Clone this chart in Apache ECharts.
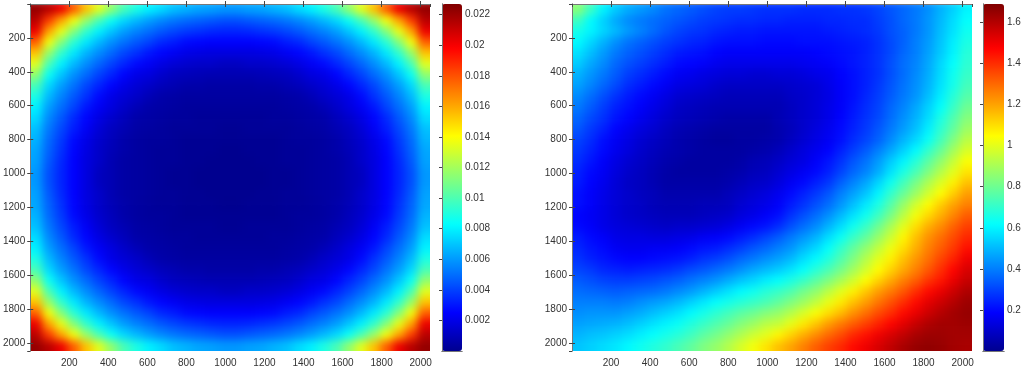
<!DOCTYPE html>
<html><head><meta charset="utf-8">
<style>
html,body{margin:0;padding:0;background:#fff;overflow:hidden}
#wrap{position:relative;width:1024px;height:371px}
#clip{position:absolute;left:0;top:0;width:1024px;height:371px;clip-path:path('M30 4H430V351H30Z M572 4H972V351H572Z')}
#field{position:absolute;left:0;top:0;width:1024px;height:371px;filter:blur(4px)}
#c{position:absolute;left:0;top:0;width:1024px;height:371px}
</style>
<script src="https://cdn.jsdelivr.net/npm/echarts@6/dist/echarts.min.js"></script>
</head><body><div id="wrap"><div id="clip"><div id="field"></div></div><div id="c"></div></div>
<script>
const xTicksMax = 2048;
const cellSize = 64;
// Left panel, in units of 0.0001; rows top to bottom, columns left to right
const leftValues = [
[222,214,202,177,154,134,116,99,89,80,75,69,66,63,62,60,60,62,63,66,69,75,80,89,99,116,134,154,177,202,214,222],
[214,185,161,138,117,99,85,74,67,61,56,52,49,47,45,43,43,45,47,49,52,56,61,67,74,85,99,117,138,161,185,214],
[202,161,136,113,94,80,70,61,55,50,45,41,38,36,34,33,33,34,36,38,41,45,50,55,61,70,80,94,113,136,161,202],
[177,138,113,92,78,67,58,51,45,40,34,31,27,26,25,25,25,25,26,27,31,34,40,45,51,58,67,78,92,113,138,177],
[154,117,94,78,66,57,49,41,36,30,26,23,20,19,18,18,18,18,19,20,23,26,30,36,41,49,57,66,78,94,117,154],
[134,99,80,67,57,48,40,33,27,23,19,16,14,13,13,11,11,13,13,14,16,19,23,27,33,40,48,57,67,80,99,134],
[116,85,70,58,49,40,33,26,20,18,14,11,10,9,8,8,8,8,9,10,11,14,18,20,26,33,40,49,58,70,85,116],
[99,74,61,51,41,33,26,20,16,13,10,8,6,6,5,5,5,5,6,6,8,10,13,16,20,26,33,41,51,61,74,99],
[89,67,55,45,36,27,20,16,13,9,6,5,4,4,4,4,4,4,4,4,5,6,9,13,16,20,27,36,45,55,67,89],
[80,61,50,40,30,23,18,13,9,6,5,4,3,3,3,3,3,3,3,3,4,5,6,9,13,18,23,30,40,50,61,80],
[75,56,45,34,26,19,14,10,6,5,4,3,3,2,2,2,2,2,2,3,3,4,5,6,10,14,19,26,34,45,56,75],
[69,52,41,31,23,16,11,8,5,4,3,2,2,2,2,1,1,2,2,2,2,3,4,5,8,11,16,23,31,41,52,69],
[66,49,38,27,20,14,10,6,4,3,3,2,1,1,1,1,1,1,1,1,2,3,3,4,6,10,14,20,27,38,49,66],
[63,47,36,26,19,13,9,6,4,3,2,2,1,1,1,0,0,1,1,1,2,2,3,4,6,9,13,19,26,36,47,63],
[62,45,34,25,18,13,8,5,4,3,2,2,1,1,0,0,0,0,1,1,2,2,3,4,5,8,13,18,25,34,45,62],
[60,43,33,25,18,11,8,5,4,3,2,1,1,0,0,0,0,0,0,1,1,2,3,4,5,8,11,18,25,33,43,60],
[60,43,33,25,18,11,8,5,4,3,2,1,1,0,0,0,0,0,0,1,1,2,3,4,5,8,11,18,25,33,43,60],
[62,45,34,25,18,13,8,5,4,3,2,2,1,1,0,0,0,0,1,1,2,2,3,4,5,8,13,18,25,34,45,62],
[63,47,36,26,19,13,9,6,4,3,2,2,1,1,1,0,0,1,1,1,2,2,3,4,6,9,13,19,26,36,47,63],
[66,49,38,27,20,14,10,6,4,3,3,2,1,1,1,1,1,1,1,1,2,3,3,4,6,10,14,20,27,38,49,66],
[69,52,41,31,23,16,11,8,5,4,3,2,2,2,2,1,1,2,2,2,2,3,4,5,8,11,16,23,31,41,52,69],
[75,56,45,34,26,19,14,10,6,5,4,3,3,2,2,2,2,2,2,3,3,4,5,6,10,14,19,26,34,45,56,75],
[80,61,50,40,30,23,18,13,9,6,5,4,3,3,3,3,3,3,3,3,4,5,6,9,13,18,23,30,40,50,61,80],
[89,67,55,45,36,27,20,16,13,9,6,5,4,4,4,4,4,4,4,4,5,6,9,13,16,20,27,36,45,55,67,89],
[99,74,61,51,41,33,26,20,16,13,10,8,6,6,5,5,5,5,6,6,8,10,13,16,20,26,33,41,51,61,74,99],
[116,85,70,58,49,40,33,26,20,18,14,11,10,9,8,8,8,8,9,10,11,14,18,20,26,33,40,49,58,70,85,116],
[134,99,80,67,57,48,40,33,27,23,19,16,14,13,13,11,11,13,13,14,16,19,23,27,33,40,48,57,67,80,99,134],
[154,117,94,78,66,57,49,41,36,30,26,23,20,19,18,18,18,18,19,20,23,26,30,36,41,49,57,66,78,94,117,154],
[177,138,113,92,78,67,58,51,45,40,34,31,27,26,25,25,25,25,26,27,31,34,40,45,51,58,67,78,92,113,138,177],
[202,161,136,113,94,80,70,61,55,50,45,41,38,36,34,33,33,34,36,38,41,45,50,55,61,70,80,94,113,136,161,202],
[214,185,161,138,117,99,85,74,67,61,56,52,49,47,45,43,43,45,47,49,52,56,61,67,74,85,99,117,138,161,185,214],
[222,214,202,177,154,134,116,99,89,80,75,69,66,63,62,60,60,62,63,66,69,75,80,89,99,116,134,154,177,202,214,222]
];
// Right panel, in units of 0.01
const rightValues = [
[85,72,60,53,48,45,42,38,36,34,32,30,29,29,28,27,27,27,26,26,26,27,27,28,30,33,36,39,43,49,54,60],
[72,61,54,47,42,39,37,35,33,31,29,28,27,26,26,25,25,24,24,24,25,25,26,26,29,32,36,39,44,50,56,62],
[65,60,55,50,45,41,37,33,30,28,27,25,24,23,23,22,22,22,22,22,23,24,25,26,28,32,35,39,44,51,57,64],
[61,55,49,43,38,35,32,29,27,25,24,22,21,21,21,20,20,20,21,21,21,22,23,24,27,31,35,40,45,52,59,66],
[57,51,45,39,35,32,29,26,23,22,21,19,18,18,18,18,18,18,18,19,20,21,22,24,27,31,36,40,46,53,60,68],
[53,47,42,36,32,29,26,23,20,19,18,16,15,15,15,15,15,15,16,17,18,20,22,24,27,32,37,41,47,55,62,69],
[49,44,39,34,29,26,23,20,17,16,14,13,12,12,11,11,12,12,13,15,16,19,21,24,27,32,37,42,48,56,64,71],
[46,41,36,31,26,23,20,17,14,13,12,10,9,9,9,9,9,10,11,12,15,18,21,24,28,33,38,43,49,57,65,73],
[42,37,32,27,23,20,17,14,11,10,9,8,7,7,7,7,7,9,10,12,14,18,21,25,29,34,39,44,51,59,68,76],
[39,34,29,24,21,18,15,12,9,8,7,6,6,6,6,6,6,8,10,12,15,18,22,26,30,36,41,47,54,62,71,80],
[36,31,27,22,19,16,13,10,8,7,6,5,4,4,4,4,6,8,10,12,15,19,23,27,31,37,43,49,56,66,75,84],
[33,28,24,19,16,13,11,8,6,5,4,3,3,3,3,3,5,7,10,13,16,20,24,28,33,39,45,51,59,69,78,88],
[30,26,21,17,14,11,9,7,5,4,3,2,2,3,3,4,5,8,11,14,17,21,26,30,35,42,49,55,63,73,83,93],
[28,24,20,16,13,10,8,6,5,4,3,3,3,3,4,5,7,10,13,16,19,24,29,34,40,47,54,61,70,79,89,98],
[26,22,18,14,11,9,7,5,4,3,3,3,3,4,6,7,9,12,14,18,22,27,33,38,45,53,60,68,77,86,95,104],
[24,20,17,13,10,8,6,4,3,3,3,3,4,5,7,8,11,14,17,20,24,30,36,41,48,57,66,74,83,92,100,109],
[23,19,16,12,9,8,6,4,4,4,4,4,5,7,9,10,13,17,20,24,28,35,41,47,55,64,73,82,91,99,107,115],
[21,18,15,12,10,8,7,5,5,5,5,5,7,9,11,13,16,20,24,28,33,40,46,52,60,70,79,88,97,105,113,121],
[21,18,15,12,10,9,7,6,6,6,7,7,8,11,13,15,18,23,27,32,37,44,51,58,66,76,87,97,105,113,120,126],
[19,17,15,12,10,9,8,7,7,7,8,9,10,13,15,18,21,27,32,37,43,50,57,64,72,82,93,103,111,118,125,132],
[20,18,15,13,12,11,10,9,10,10,11,12,14,17,20,22,26,32,37,42,49,56,64,71,80,90,100,110,118,124,131,137],
[23,20,18,15,14,14,13,13,14,15,17,18,20,23,26,30,34,39,44,49,56,63,71,78,87,96,106,115,123,129,135,141],
[25,22,20,17,16,16,17,17,18,20,22,23,26,29,33,36,40,44,50,55,62,70,78,86,94,102,110,118,126,132,138,145],
[27,24,22,20,19,19,20,21,22,24,27,29,32,36,39,43,46,50,56,61,67,75,83,92,100,107,115,122,129,136,142,150],
[30,28,25,24,23,24,25,26,28,31,33,36,39,43,47,50,53,57,62,68,74,81,89,97,105,112,119,126,133,140,147,154],
[34,32,30,29,29,30,31,33,35,38,41,44,48,52,55,59,62,66,71,77,83,90,97,105,112,119,126,132,139,144,151,157],
[37,36,35,34,35,36,37,39,42,45,49,53,57,61,64,68,71,75,81,86,93,100,107,114,121,127,133,140,146,151,156,161],
[40,40,40,39,40,43,45,47,50,54,58,62,65,68,71,74,78,83,88,94,101,108,115,121,128,134,140,146,152,156,160,164],
[43,44,44,44,46,48,51,54,57,61,65,69,73,77,80,84,87,92,98,104,110,116,123,129,135,140,146,151,156,160,163,165],
[46,47,48,49,51,54,57,60,63,67,71,75,79,84,88,93,95,101,108,114,121,127,132,137,142,147,152,157,161,163,163,164],
[49,51,52,54,56,59,62,65,68,72,77,81,86,91,96,100,106,112,118,124,130,135,141,145,150,154,158,162,164,164,163,163],
[52,54,56,58,61,64,67,70,74,78,83,87,92,98,103,109,115,120,126,132,137,141,146,150,154,158,162,165,166,165,163,162]
];
// The 64 steps of the jet colour map
const jetColors = [];
for (let k=1;k<=64;k++){
  const ramp=c=>Math.round(255*Math.max(0,Math.min(1,Math.min(c+1.5,1.5-c)))) ;
  const p=k/16; // 0..4
  jetColors.push('rgb('+ramp(p-3)+','+ramp(p-2)+','+ramp(p-1)+')');
}
const leftBarMax = 0.0227, rightBarMax = 1.69;

function cells(m, unit){
  const out=[];
  m.forEach((row,j)=>row.forEach((v,i)=>out.push([cellSize*i+cellSize/2, cellSize*j+cellSize/2, v*unit])));
  return out;
}
// Cells on the outer rows and columns run on past the frame so the soft edge falls outside the clip.
function renderCell(params, api){
  const x=api.value(0), y=api.value(1), h=cellSize/2, bleed=16;
  const a=api.coord([x-h,y-h]), b=api.coord([x+h,y+h]);
  const x0=x-h<=0?a[0]-bleed:a[0], y0=y-h<=0?a[1]-bleed:a[1];
  const x1=x+h>=xTicksMax?b[0]+bleed:b[0]+0.6, y1=y+h>=xTicksMax?b[1]+bleed:b[1]+0.6;
  return {type:'rect', shape:{x:x0,y:y0,width:x1-x0,height:y1-y0}, style:{fill:api.visual('color')}};
}
const font={fontFamily:'Liberation Sans, Arial, sans-serif',fontSize:10,color:'#333'};
const line={show:true,lineStyle:{color:'#777',width:1}};
const tick={show:true,inside:true,length:3,lineStyle:{color:'#444',width:1}};
const hideEnds=v=>(v===0||v===xTicksMax)?'':String(v);
const gridPlotL={left:30,top:4,width:400,height:347}, gridPlotR={left:572,top:4,width:400,height:347};
function plotAxes(g){
  return {
   x:[{type:'value',gridIndex:g,min:0,max:xTicksMax,interval:200,position:'bottom',axisLine:line,axisTick:tick,splitLine:{show:false},
       axisLabel:Object.assign({},font,{margin:7,formatter:hideEnds,showMinLabel:false,showMaxLabel:false}),z:5},
      {type:'value',gridIndex:g,min:0,max:xTicksMax,interval:200,position:'top',axisLine:line,axisTick:tick,splitLine:{show:false},axisLabel:{show:false},z:5}],
   y:[{type:'value',gridIndex:g,min:0,max:xTicksMax,interval:200,inverse:true,position:'left',axisLine:line,axisTick:tick,splitLine:{show:false},
       axisLabel:Object.assign({},font,{margin:5,formatter:hideEnds,showMinLabel:false,showMaxLabel:false}),z:5},
      {type:'value',gridIndex:g,min:0,max:xTicksMax,interval:200,inverse:true,position:'right',axisLine:line,axisTick:tick,splitLine:{show:false},axisLabel:{show:false},z:5}]
  };
}
function barAxes(g,max,interval){
  return {
   x:[{type:'value',gridIndex:g,min:0,max:1,position:'bottom',axisLine:line,axisTick:{show:false},axisLabel:{show:false},splitLine:{show:false},z:5},
      {type:'value',gridIndex:g,min:0,max:1,position:'top',axisLine:line,axisTick:{show:false},axisLabel:{show:false},splitLine:{show:false},z:5}],
   y:[{type:'value',gridIndex:g,min:0,max:max,interval:interval,position:'right',axisLine:line,axisTick:tick,splitLine:{show:false},
       axisLabel:Object.assign({},font,{margin:3,showMinLabel:false,showMaxLabel:false}),z:5},
      {type:'value',gridIndex:g,min:0,max:max,position:'left',axisLine:line,axisTick:{show:false},axisLabel:{show:false},splitLine:{show:false},z:5}]
  };
}
// Colour field: the two panels' cells, softened and clipped by the page's CSS.
const fieldAxis=g=>({type:'value',gridIndex:g,min:0,max:xTicksMax,show:false});
const fieldAxisY=g=>({type:'value',gridIndex:g,min:0,max:xTicksMax,inverse:true,show:false});
const field=echarts.init(document.getElementById('field'),null,{renderer:'canvas'});
field.setOption({
  animation:false,
  grid:[gridPlotL,gridPlotR],
  xAxis:[fieldAxis(0),fieldAxis(1)],
  yAxis:[fieldAxisY(0),fieldAxisY(1)],
  visualMap:[
    {type:'continuous',show:false,seriesIndex:0,dimension:2,min:0,max:leftBarMax,inRange:{color:jetColors}},
    {type:'continuous',show:false,seriesIndex:1,dimension:2,min:0,max:rightBarMax,inRange:{color:jetColors}}
  ],
  series:[
    {type:'custom',xAxisIndex:0,yAxisIndex:0,data:cells(leftValues,0.0001),renderItem:renderCell,clip:false,encode:{x:0,y:1},silent:true,progressive:0},
    {type:'custom',xAxisIndex:1,yAxisIndex:1,data:cells(rightValues,0.01),renderItem:renderCell,clip:false,encode:{x:0,y:1},silent:true,progressive:0}
  ]
});
// Frames, ticks, tick labels and colour bars.
const a0=plotAxes(0),b1=barAxes(1,leftBarMax,0.002),a2=plotAxes(2),b3=barAxes(3,rightBarMax,0.2);
const chart=echarts.init(document.getElementById('c'),null,{renderer:'canvas'});
chart.setOption({
  animation:false,backgroundColor:'transparent',
  grid:[gridPlotL,{left:442,top:4,width:20,height:347},gridPlotR,{left:983,top:4,width:21,height:347}],
  xAxis:[...a0.x,...b1.x,...a2.x,...b3.x],
  yAxis:[...a0.y,...b1.y,...a2.y,...b3.y],
  visualMap:[
    {type:'continuous',seriesIndex:[],min:0,max:leftBarMax,left:442,top:4,itemWidth:20,itemHeight:347,padding:0,calculable:false,hoverLink:false,inRange:{color:jetColors}},
    {type:'continuous',seriesIndex:[],min:0,max:rightBarMax,left:983,top:4,itemWidth:21,itemHeight:347,padding:0,calculable:false,hoverLink:false,inRange:{color:jetColors}}
  ],
  series:[]
});
</script></body></html>
